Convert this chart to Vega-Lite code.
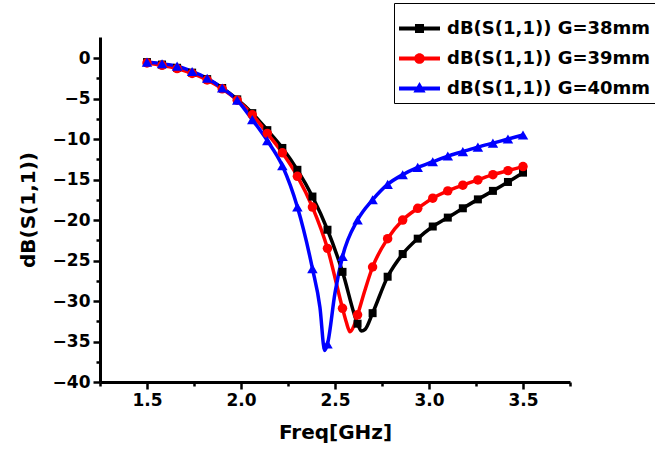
{
  "$schema": "https://vega.github.io/schema/vega-lite/v6.json",
  "autosize": {"type": "none"},
  "padding": {"left": 100, "top": 37, "right": 85, "bottom": 73},
  "width": 470,
  "height": 345,
  "config": {
    "view": {"stroke": null},
    "font": "DejaVu Sans",
    "axis": {
      "grid": false,
      "domainColor": "black",
      "domainWidth": 3,
      "tickColor": "black",
      "tickWidth": 2.5,
      "tickSize": 7,
      "labelFont": "DejaVu Sans",
      "labelFontSize": 17,
      "labelFontWeight": "bold",
      "labelColor": "black",
      "labelPadding": 3,
      "titleFont": "DejaVu Sans",
      "titleFontSize": 20,
      "titleFontWeight": "bold",
      "titleColor": "black",
      "titlePadding": 14
    },
    "legend": {
      "orient": "none", "legendX": 294, "legendY": -34,
      "strokeColor": "black", "fillColor": "white", "padding": 5,
      "labelFont": "DejaVu Sans", "labelFontSize": 18, "labelFontWeight": "bold", "labelColor": "black",
      "labelLimit": 400, "labelOffset": 7, "rowPadding": -2.5,
      "symbolSize": 1681, "symbolStrokeWidth": 0
    }
  },
  "datasets": {
    "curve": [
      {"freq": 1.50, "db": -0.5, "series": "dB(S(1,1)) G=38mm"},
      {"freq": 1.58, "db": -0.8, "series": "dB(S(1,1)) G=38mm"},
      {"freq": 1.66, "db": -1.2, "series": "dB(S(1,1)) G=38mm"},
      {"freq": 1.74, "db": -1.8, "series": "dB(S(1,1)) G=38mm"},
      {"freq": 1.82, "db": -2.6, "series": "dB(S(1,1)) G=38mm"},
      {"freq": 1.90, "db": -3.7, "series": "dB(S(1,1)) G=38mm"},
      {"freq": 1.98, "db": -5.1, "series": "dB(S(1,1)) G=38mm"},
      {"freq": 2.06, "db": -6.8, "series": "dB(S(1,1)) G=38mm"},
      {"freq": 2.14, "db": -8.9, "series": "dB(S(1,1)) G=38mm"},
      {"freq": 2.22, "db": -11.1, "series": "dB(S(1,1)) G=38mm"},
      {"freq": 2.30, "db": -13.8, "series": "dB(S(1,1)) G=38mm"},
      {"freq": 2.38, "db": -17.1, "series": "dB(S(1,1)) G=38mm"},
      {"freq": 2.46, "db": -21.2, "series": "dB(S(1,1)) G=38mm"},
      {"freq": 2.54, "db": -26.4, "series": "dB(S(1,1)) G=38mm"},
      {"freq": 2.62, "db": -32.8, "series": "dB(S(1,1)) G=38mm"},
      {"freq": 2.64, "db": -33.7, "series": "dB(S(1,1)) G=38mm"},
      {"freq": 2.66, "db": -33.5, "series": "dB(S(1,1)) G=38mm"},
      {"freq": 2.70, "db": -31.5, "series": "dB(S(1,1)) G=38mm"},
      {"freq": 2.78, "db": -27.0, "series": "dB(S(1,1)) G=38mm"},
      {"freq": 2.86, "db": -24.2, "series": "dB(S(1,1)) G=38mm"},
      {"freq": 2.94, "db": -22.3, "series": "dB(S(1,1)) G=38mm"},
      {"freq": 3.02, "db": -20.8, "series": "dB(S(1,1)) G=38mm"},
      {"freq": 3.10, "db": -19.7, "series": "dB(S(1,1)) G=38mm"},
      {"freq": 3.18, "db": -18.55, "series": "dB(S(1,1)) G=38mm"},
      {"freq": 3.26, "db": -17.45, "series": "dB(S(1,1)) G=38mm"},
      {"freq": 3.34, "db": -16.4, "series": "dB(S(1,1)) G=38mm"},
      {"freq": 3.42, "db": -15.3, "series": "dB(S(1,1)) G=38mm"},
      {"freq": 3.50, "db": -14.15, "series": "dB(S(1,1)) G=38mm"},
      {"freq": 1.50, "db": -0.6, "series": "dB(S(1,1)) G=39mm"},
      {"freq": 1.58, "db": -0.9, "series": "dB(S(1,1)) G=39mm"},
      {"freq": 1.66, "db": -1.3, "series": "dB(S(1,1)) G=39mm"},
      {"freq": 1.74, "db": -1.9, "series": "dB(S(1,1)) G=39mm"},
      {"freq": 1.82, "db": -2.7, "series": "dB(S(1,1)) G=39mm"},
      {"freq": 1.90, "db": -3.8, "series": "dB(S(1,1)) G=39mm"},
      {"freq": 1.98, "db": -5.2, "series": "dB(S(1,1)) G=39mm"},
      {"freq": 2.06, "db": -7.0, "series": "dB(S(1,1)) G=39mm"},
      {"freq": 2.14, "db": -9.3, "series": "dB(S(1,1)) G=39mm"},
      {"freq": 2.22, "db": -11.7, "series": "dB(S(1,1)) G=39mm"},
      {"freq": 2.30, "db": -14.6, "series": "dB(S(1,1)) G=39mm"},
      {"freq": 2.38, "db": -18.4, "series": "dB(S(1,1)) G=39mm"},
      {"freq": 2.46, "db": -23.5, "series": "dB(S(1,1)) G=39mm"},
      {"freq": 2.54, "db": -30.9, "series": "dB(S(1,1)) G=39mm"},
      {"freq": 2.56, "db": -32.6, "series": "dB(S(1,1)) G=39mm"},
      {"freq": 2.58, "db": -33.8, "series": "dB(S(1,1)) G=39mm"},
      {"freq": 2.60, "db": -33.1, "series": "dB(S(1,1)) G=39mm"},
      {"freq": 2.62, "db": -31.7, "series": "dB(S(1,1)) G=39mm"},
      {"freq": 2.66, "db": -28.6, "series": "dB(S(1,1)) G=39mm"},
      {"freq": 2.70, "db": -25.8, "series": "dB(S(1,1)) G=39mm"},
      {"freq": 2.78, "db": -22.3, "series": "dB(S(1,1)) G=39mm"},
      {"freq": 2.86, "db": -20.0, "series": "dB(S(1,1)) G=39mm"},
      {"freq": 2.94, "db": -18.55, "series": "dB(S(1,1)) G=39mm"},
      {"freq": 3.02, "db": -17.3, "series": "dB(S(1,1)) G=39mm"},
      {"freq": 3.10, "db": -16.4, "series": "dB(S(1,1)) G=39mm"},
      {"freq": 3.18, "db": -15.7, "series": "dB(S(1,1)) G=39mm"},
      {"freq": 3.26, "db": -15.05, "series": "dB(S(1,1)) G=39mm"},
      {"freq": 3.34, "db": -14.4, "series": "dB(S(1,1)) G=39mm"},
      {"freq": 3.42, "db": -13.9, "series": "dB(S(1,1)) G=39mm"},
      {"freq": 3.50, "db": -13.4, "series": "dB(S(1,1)) G=39mm"},
      {"freq": 1.50, "db": -0.5, "series": "dB(S(1,1)) G=40mm"},
      {"freq": 1.58, "db": -0.7, "series": "dB(S(1,1)) G=40mm"},
      {"freq": 1.66, "db": -1.0, "series": "dB(S(1,1)) G=40mm"},
      {"freq": 1.74, "db": -1.65, "series": "dB(S(1,1)) G=40mm"},
      {"freq": 1.82, "db": -2.5, "series": "dB(S(1,1)) G=40mm"},
      {"freq": 1.90, "db": -3.7, "series": "dB(S(1,1)) G=40mm"},
      {"freq": 1.98, "db": -5.2, "series": "dB(S(1,1)) G=40mm"},
      {"freq": 2.06, "db": -7.6, "series": "dB(S(1,1)) G=40mm"},
      {"freq": 2.14, "db": -10.2, "series": "dB(S(1,1)) G=40mm"},
      {"freq": 2.22, "db": -13.3, "series": "dB(S(1,1)) G=40mm"},
      {"freq": 2.30, "db": -18.4, "series": "dB(S(1,1)) G=40mm"},
      {"freq": 2.38, "db": -26.0, "series": "dB(S(1,1)) G=40mm"},
      {"freq": 2.42, "db": -30.8, "series": "dB(S(1,1)) G=40mm"},
      {"freq": 2.445, "db": -36.1, "series": "dB(S(1,1)) G=40mm"},
      {"freq": 2.46, "db": -35.3, "series": "dB(S(1,1)) G=40mm"},
      {"freq": 2.50, "db": -29.0, "series": "dB(S(1,1)) G=40mm"},
      {"freq": 2.54, "db": -24.5, "series": "dB(S(1,1)) G=40mm"},
      {"freq": 2.62, "db": -20.0, "series": "dB(S(1,1)) G=40mm"},
      {"freq": 2.70, "db": -17.5, "series": "dB(S(1,1)) G=40mm"},
      {"freq": 2.78, "db": -15.6, "series": "dB(S(1,1)) G=40mm"},
      {"freq": 2.86, "db": -14.4, "series": "dB(S(1,1)) G=40mm"},
      {"freq": 2.94, "db": -13.5, "series": "dB(S(1,1)) G=40mm"},
      {"freq": 3.02, "db": -12.8, "series": "dB(S(1,1)) G=40mm"},
      {"freq": 3.10, "db": -12.1, "series": "dB(S(1,1)) G=40mm"},
      {"freq": 3.18, "db": -11.55, "series": "dB(S(1,1)) G=40mm"},
      {"freq": 3.26, "db": -11.0, "series": "dB(S(1,1)) G=40mm"},
      {"freq": 3.34, "db": -10.5, "series": "dB(S(1,1)) G=40mm"},
      {"freq": 3.42, "db": -10.0, "series": "dB(S(1,1)) G=40mm"},
      {"freq": 3.50, "db": -9.5, "series": "dB(S(1,1)) G=40mm"}
    ],
    "markers": [
      {"freq": 1.50, "db": -0.5, "series": "dB(S(1,1)) G=38mm"},
      {"freq": 1.58, "db": -0.8, "series": "dB(S(1,1)) G=38mm"},
      {"freq": 1.66, "db": -1.2, "series": "dB(S(1,1)) G=38mm"},
      {"freq": 1.74, "db": -1.8, "series": "dB(S(1,1)) G=38mm"},
      {"freq": 1.82, "db": -2.6, "series": "dB(S(1,1)) G=38mm"},
      {"freq": 1.90, "db": -3.7, "series": "dB(S(1,1)) G=38mm"},
      {"freq": 1.98, "db": -5.1, "series": "dB(S(1,1)) G=38mm"},
      {"freq": 2.06, "db": -6.8, "series": "dB(S(1,1)) G=38mm"},
      {"freq": 2.14, "db": -8.9, "series": "dB(S(1,1)) G=38mm"},
      {"freq": 2.22, "db": -11.1, "series": "dB(S(1,1)) G=38mm"},
      {"freq": 2.30, "db": -13.8, "series": "dB(S(1,1)) G=38mm"},
      {"freq": 2.38, "db": -17.1, "series": "dB(S(1,1)) G=38mm"},
      {"freq": 2.46, "db": -21.2, "series": "dB(S(1,1)) G=38mm"},
      {"freq": 2.54, "db": -26.4, "series": "dB(S(1,1)) G=38mm"},
      {"freq": 2.62, "db": -32.8, "series": "dB(S(1,1)) G=38mm"},
      {"freq": 2.70, "db": -31.5, "series": "dB(S(1,1)) G=38mm"},
      {"freq": 2.78, "db": -27.0, "series": "dB(S(1,1)) G=38mm"},
      {"freq": 2.86, "db": -24.2, "series": "dB(S(1,1)) G=38mm"},
      {"freq": 2.94, "db": -22.3, "series": "dB(S(1,1)) G=38mm"},
      {"freq": 3.02, "db": -20.8, "series": "dB(S(1,1)) G=38mm"},
      {"freq": 3.10, "db": -19.7, "series": "dB(S(1,1)) G=38mm"},
      {"freq": 3.18, "db": -18.55, "series": "dB(S(1,1)) G=38mm"},
      {"freq": 3.26, "db": -17.45, "series": "dB(S(1,1)) G=38mm"},
      {"freq": 3.34, "db": -16.4, "series": "dB(S(1,1)) G=38mm"},
      {"freq": 3.42, "db": -15.3, "series": "dB(S(1,1)) G=38mm"},
      {"freq": 3.50, "db": -14.15, "series": "dB(S(1,1)) G=38mm"},
      {"freq": 1.50, "db": -0.6, "series": "dB(S(1,1)) G=39mm"},
      {"freq": 1.58, "db": -0.9, "series": "dB(S(1,1)) G=39mm"},
      {"freq": 1.66, "db": -1.3, "series": "dB(S(1,1)) G=39mm"},
      {"freq": 1.74, "db": -1.9, "series": "dB(S(1,1)) G=39mm"},
      {"freq": 1.82, "db": -2.7, "series": "dB(S(1,1)) G=39mm"},
      {"freq": 1.90, "db": -3.8, "series": "dB(S(1,1)) G=39mm"},
      {"freq": 1.98, "db": -5.2, "series": "dB(S(1,1)) G=39mm"},
      {"freq": 2.06, "db": -7.0, "series": "dB(S(1,1)) G=39mm"},
      {"freq": 2.14, "db": -9.3, "series": "dB(S(1,1)) G=39mm"},
      {"freq": 2.22, "db": -11.7, "series": "dB(S(1,1)) G=39mm"},
      {"freq": 2.30, "db": -14.6, "series": "dB(S(1,1)) G=39mm"},
      {"freq": 2.38, "db": -18.4, "series": "dB(S(1,1)) G=39mm"},
      {"freq": 2.46, "db": -23.5, "series": "dB(S(1,1)) G=39mm"},
      {"freq": 2.54, "db": -30.9, "series": "dB(S(1,1)) G=39mm"},
      {"freq": 2.62, "db": -31.7, "series": "dB(S(1,1)) G=39mm"},
      {"freq": 2.70, "db": -25.8, "series": "dB(S(1,1)) G=39mm"},
      {"freq": 2.78, "db": -22.3, "series": "dB(S(1,1)) G=39mm"},
      {"freq": 2.86, "db": -20.0, "series": "dB(S(1,1)) G=39mm"},
      {"freq": 2.94, "db": -18.55, "series": "dB(S(1,1)) G=39mm"},
      {"freq": 3.02, "db": -17.3, "series": "dB(S(1,1)) G=39mm"},
      {"freq": 3.10, "db": -16.4, "series": "dB(S(1,1)) G=39mm"},
      {"freq": 3.18, "db": -15.7, "series": "dB(S(1,1)) G=39mm"},
      {"freq": 3.26, "db": -15.05, "series": "dB(S(1,1)) G=39mm"},
      {"freq": 3.34, "db": -14.4, "series": "dB(S(1,1)) G=39mm"},
      {"freq": 3.42, "db": -13.9, "series": "dB(S(1,1)) G=39mm"},
      {"freq": 3.50, "db": -13.4, "series": "dB(S(1,1)) G=39mm"},
      {"freq": 1.50, "db": -0.5, "series": "dB(S(1,1)) G=40mm"},
      {"freq": 1.58, "db": -0.7, "series": "dB(S(1,1)) G=40mm"},
      {"freq": 1.66, "db": -1.0, "series": "dB(S(1,1)) G=40mm"},
      {"freq": 1.74, "db": -1.65, "series": "dB(S(1,1)) G=40mm"},
      {"freq": 1.82, "db": -2.5, "series": "dB(S(1,1)) G=40mm"},
      {"freq": 1.90, "db": -3.7, "series": "dB(S(1,1)) G=40mm"},
      {"freq": 1.98, "db": -5.2, "series": "dB(S(1,1)) G=40mm"},
      {"freq": 2.06, "db": -7.6, "series": "dB(S(1,1)) G=40mm"},
      {"freq": 2.14, "db": -10.2, "series": "dB(S(1,1)) G=40mm"},
      {"freq": 2.22, "db": -13.3, "series": "dB(S(1,1)) G=40mm"},
      {"freq": 2.30, "db": -18.4, "series": "dB(S(1,1)) G=40mm"},
      {"freq": 2.38, "db": -26.0, "series": "dB(S(1,1)) G=40mm"},
      {"freq": 2.46, "db": -35.3, "series": "dB(S(1,1)) G=40mm"},
      {"freq": 2.54, "db": -24.5, "series": "dB(S(1,1)) G=40mm"},
      {"freq": 2.62, "db": -20.0, "series": "dB(S(1,1)) G=40mm"},
      {"freq": 2.70, "db": -17.5, "series": "dB(S(1,1)) G=40mm"},
      {"freq": 2.78, "db": -15.6, "series": "dB(S(1,1)) G=40mm"},
      {"freq": 2.86, "db": -14.4, "series": "dB(S(1,1)) G=40mm"},
      {"freq": 2.94, "db": -13.5, "series": "dB(S(1,1)) G=40mm"},
      {"freq": 3.02, "db": -12.8, "series": "dB(S(1,1)) G=40mm"},
      {"freq": 3.10, "db": -12.1, "series": "dB(S(1,1)) G=40mm"},
      {"freq": 3.18, "db": -11.55, "series": "dB(S(1,1)) G=40mm"},
      {"freq": 3.26, "db": -11.0, "series": "dB(S(1,1)) G=40mm"},
      {"freq": 3.34, "db": -10.5, "series": "dB(S(1,1)) G=40mm"},
      {"freq": 3.42, "db": -10.0, "series": "dB(S(1,1)) G=40mm"},
      {"freq": 3.50, "db": -9.5, "series": "dB(S(1,1)) G=40mm"}
    ]
  },
  "layer": [
    {
      "data": {"name": "curve"},
      "mark": {"type": "line", "strokeWidth": 3.5, "interpolate": "monotone"},
      "encoding": {
        "x": {
          "field": "freq", "type": "quantitative",
          "scale": {"domain": [1.25, 3.75], "nice": false, "zero": false},
          "axis": {"orient": "bottom", "values": [1.5, 2.0, 2.5, 3.0, 3.5], "format": ".1f", "title": "Freq[GHz]"}
        },
        "y": {
          "field": "db", "type": "quantitative",
          "scale": {"domain": [-40, 2.6], "nice": false, "zero": false},
          "axis": {"orient": "left", "values": [0, -5, -10, -15, -20, -25, -30, -35, -40], "title": "dB(S(1,1))"}
        },
        "stroke": {
          "field": "series", "type": "nominal",
          "scale": {"domain": ["dB(S(1,1)) G=38mm", "dB(S(1,1)) G=39mm", "dB(S(1,1)) G=40mm"], "range": ["#000000", "#ff0000", "#0000ff"]},
          "legend": {
            "title": null,
            "encoding": {
              "symbols": {
                "opacity": {"value": 1},
                "size": {"value": 1681},
                "strokeWidth": {"value": 0},
                "shape": {"value": {"expr": "indexof(datum.value, '38mm') >= 0 ? 'M-1,-0.1L1,-0.1L1,0.1L-1,0.1Z M-0.22,-0.22L0.22,-0.22L0.22,0.22L-0.22,0.22Z' : (indexof(datum.value, '39mm') >= 0 ? 'M-1,-0.1L1,-0.1L1,0.1L-1,0.1Z M-0.26,0A0.26,0.26,0,1,1,0.26,0A0.26,0.26,0,1,1,-0.26,0Z' : 'M-1,-0.1L1,-0.1L1,0.1L-1,0.1Z M0,-0.32L0.3,0.2L-0.3,0.2Z')"}}
              }
            }
          }
        }
      }
    },
    {
      "data": {"name": "markers"},
      "transform": [{"filter": {"field": "series", "equal": "dB(S(1,1)) G=38mm"}}],
      "mark": {"type": "point", "filled": true, "opacity": 1, "size": 64, "shape": "square", "strokeWidth": 0},
      "encoding": {
        "x": {
          "field": "freq", "type": "quantitative",
          "axis": {"orient": "bottom", "values": [1.25, 1.75, 2.25, 2.75, 3.25, 3.75], "labels": false, "title": null, "tickSize": 4, "domain": false}
        },
        "y": {
          "field": "db", "type": "quantitative",
          "axis": {"orient": "left", "values": [-2.5, -7.5, -12.5, -17.5, -22.5, -27.5, -32.5, -37.5], "labels": false, "title": null, "tickSize": 4, "domain": false}
        },
        "color": {
          "field": "series", "type": "nominal",
          "scale": {"domain": ["dB(S(1,1)) G=38mm", "dB(S(1,1)) G=39mm", "dB(S(1,1)) G=40mm"], "range": ["#000000", "#ff0000", "#0000ff"]},
          "legend": {"title": null}
        }
      }
    },
    {
      "data": {"name": "markers"},
      "transform": [{"filter": {"field": "series", "equal": "dB(S(1,1)) G=39mm"}}],
      "mark": {"type": "point", "filled": true, "opacity": 1, "size": 90, "shape": "circle", "strokeWidth": 0},
      "encoding": {
        "x": {"field": "freq", "type": "quantitative", "axis": null},
        "y": {"field": "db", "type": "quantitative", "axis": null},
        "color": {"field": "series", "type": "nominal", "legend": {"title": null}}
      }
    },
    {
      "data": {"name": "markers"},
      "transform": [{"filter": {"field": "series", "equal": "dB(S(1,1)) G=40mm"}}],
      "mark": {"type": "point", "filled": true, "opacity": 1, "size": 110, "shape": "triangle-up", "strokeWidth": 0},
      "encoding": {
        "x": {"field": "freq", "type": "quantitative", "axis": null},
        "y": {"field": "db", "type": "quantitative", "axis": null},
        "color": {"field": "series", "type": "nominal", "legend": {"title": null}}
      }
    }
  ],
  "resolve": {"axis": {"x": "independent", "y": "independent"}}
}
